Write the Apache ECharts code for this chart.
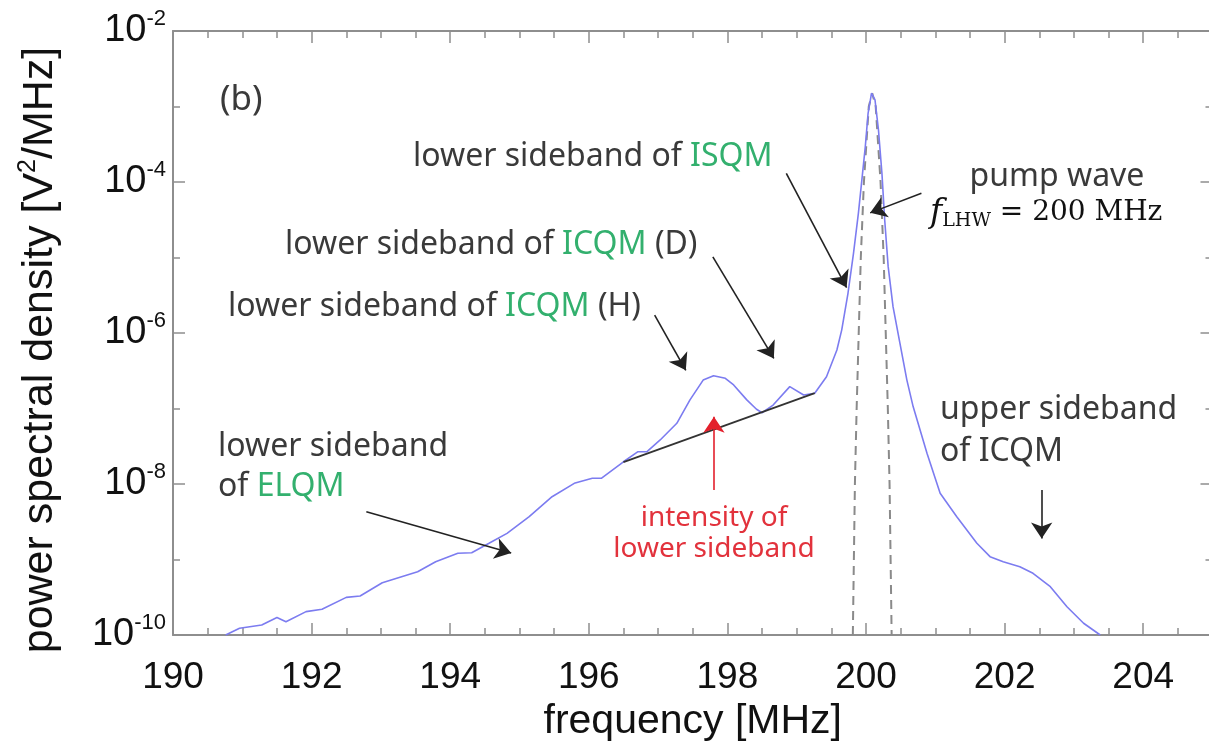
<!DOCTYPE html>
<html>
<head>
<meta charset="utf-8">
<script src="https://cdn.jsdelivr.net/npm/echarts@6/dist/echarts.min.js"></script>
<style>
  html, body { margin: 0; padding: 0; background: #fff; }
  #chart { width: 1209px; height: 746px; }
</style>
</head>
<body>
<div id="chart"></div>
<script>
// Measured power spectrum around the lower-hybrid pump (frequency in MHz, PSD in V^2/MHz)
const freq = [190.76, 190.96, 191.28, 191.50, 191.63, 191.92, 192.15, 192.50, 192.70, 193.02,
  193.53, 193.79, 194.11, 194.31, 194.56, 194.82, 195.14, 195.47, 195.79, 196.05,
  196.18, 196.50, 196.71, 196.84, 197.03, 197.27, 197.46, 197.65, 197.80, 197.97,
  198.09, 198.28, 198.42, 198.50, 198.66, 198.90, 199.10, 199.26, 199.43, 199.58,
  199.65, 199.74, 199.82, 199.89, 199.94, 199.99, 200.03, 200.08, 200.13, 200.18,
  200.23, 200.27, 200.32, 200.39, 200.49, 200.59, 200.68, 200.88, 201.07, 201.31,
  201.60, 201.79, 201.98, 202.22, 202.41, 202.66, 202.90, 203.14, 203.38];
const psd = [1.0e-10, 1.23e-10, 1.36e-10, 1.71e-10, 1.50e-10, 2.04e-10, 2.19e-10, 3.15e-10, 3.29e-10, 4.93e-10,
  6.89e-10, 9.35e-10, 1.21e-9, 1.23e-9, 1.64e-9, 2.22e-9, 3.69e-9, 6.79e-9, 1.02e-8, 1.19e-8,
  1.19e-8, 1.97e-8, 2.68e-8, 2.68e-8, 3.83e-8, 6.37e-8, 1.30e-7, 2.38e-7, 2.72e-7, 2.51e-7,
  2.05e-7, 1.30e-7, 9.76e-8, 8.79e-8, 1.11e-7, 1.95e-7, 1.51e-7, 1.59e-7, 2.64e-7, 5.96e-7,
  1.10e-6, 3.36e-6, 1.14e-5, 3.85e-5, 1.06e-4, 2.94e-4, 8.13e-4, 1.50e-3, 1.22e-3, 4.89e-4,
  1.30e-4, 3.14e-5, 7.56e-6, 2.23e-6, 7.31e-7, 2.38e-7, 1.06e-7, 2.55e-8, 7.54e-9, 3.69e-9,
  1.64e-9, 1.09e-9, 9.35e-10, 8.03e-10, 6.56e-10, 4.37e-10, 2.37e-10, 1.43e-10, 1.0e-10];

// Pump wave line profile (dashed)
const pumpFreq = [199.81, 199.825, 199.84, 199.865, 199.895, 199.925, 199.97, 200.04, 200.09,
  200.14, 200.21, 200.255, 200.285, 200.315, 200.34, 200.355, 200.37];
const pumpPsd = [1e-10, 1e-9, 1e-8, 1e-7, 1e-6, 1e-5, 1e-4, 1e-3, 1.5e-3,
  1e-3, 1e-4, 1e-5, 1e-6, 1e-7, 1e-8, 1e-9, 1e-10];

// Background level under the lower sidebands (start and end point)
const baseFreq = [196.50, 199.26];
const basePsd = [1.95e-8, 1.6e-7];

// Axis ranges and ticks
const xRange = [190, 205];
const xMajor = 2;
const xMinor = 0.5;
const yRange = [1e-10, 1e-2];
const yExpRange = [-10, -2];

// Annotation arrows: [fromFreq, fromPsd, toFreq, toPsd]
const arrowISQM = [198.85, 1.30e-4, 199.72, 4.0e-6];
const arrowPump = [200.80, 7.08e-5, 200.06, 3.9e-5];
const arrowD = [197.79, 1.02e-5, 198.67, 4.6e-7];
const arrowH = [196.95, 1.73e-6, 197.40, 3.2e-7];
const arrowELQM = [192.79, 4.30e-9, 194.88, 1.22e-9];
const arrowUpper = [202.535, 8.34e-9, 202.535, 1.9e-9];
const arrowIntensity = [197.806, 8.34e-9, 197.806, 7.8e-8];

const GREEN = '#33b06e';
const TEXT = '#3a3a3a';
const RED = '#e2323c';
const FRAME = '#8e8e8e';
const SANS = 'Noto Sans';

const chart = echarts.init(document.getElementById('chart'), null, { renderer: 'canvas' });

function arrowLine(a, color) {
  return [{ coord: [a[0], a[1]], symbol: 'none' },
          { coord: [a[2], a[3]], symbol: 'arrow', symbolSize: 16,
            lineStyle: { color: color } }];
}

function xAxisCfg(pos, interval, len, main) {
  return {
    type: 'value', position: pos, min: xRange[0], max: xRange[1], interval: interval,
    axisLine: { show: main, lineStyle: { color: FRAME, width: 2 } },
    axisTick: { show: true, inside: true, length: len, lineStyle: { color: FRAME, width: 1.5 } },
    axisLabel: { show: false },
    splitLine: { show: false }
  };
}

const xBottom = xAxisCfg('bottom', xMajor, 12, true);
xBottom.axisLabel = {
  show: true, margin: 24, showMaxLabel: false,
  fontFamily: 'Liberation Sans', fontSize: 37, color: '#111'
};
xBottom.name = 'frequency [MHz]';
xBottom.nameLocation = 'middle';
xBottom.nameGap = 58;
xBottom.nameTextStyle = { fontFamily: 'Liberation Sans', fontSize: 41, color: '#111' };

function yLogCfg(pos, main) {
  return {
    type: 'log', logBase: 10, position: pos, min: yRange[0], max: yRange[1],
    axisLine: { show: main, lineStyle: { color: FRAME, width: 2 } },
    axisTick: { show: true, inside: true, length: 7, lineStyle: { color: FRAME, width: 1.5 } },
    axisLabel: { show: false },
    splitLine: { show: false }
  };
}
function yExpCfg(pos) {
  return {
    type: 'value', position: pos, min: yExpRange[0], max: yExpRange[1], interval: 2,
    axisLine: { show: false },
    axisTick: { show: true, inside: true, length: 12, lineStyle: { color: FRAME, width: 1.5 } },
    axisLabel: { show: false },
    splitLine: { show: false }
  };
}

const yLeft = yLogCfg('left', true);
yLeft.axisLabel = {
  show: true, margin: 7,
  formatter: function (v) {
    const e = Math.round(Math.log10(v));
    return (e % 2 === 0) ? '{b|10}{s|' + e + '}' : '';
  },
  rich: {
    b: { fontFamily: 'Liberation Sans', fontSize: 38, color: '#111', lineHeight: 46 },
    s: { fontFamily: 'Liberation Sans', fontSize: 22, color: '#111', lineHeight: 46, verticalAlign: 'top' }
  }
};

function txt(x, y, text, opts) {
  opts = opts || {};
  return {
    type: 'text', x: x, y: y, z: 100,
    style: {
      text: text,
      fill: opts.fill || TEXT,
      font: (opts.size || 32) + 'px "' + (opts.family || SANS) + '"',
      textAlign: opts.align || 'left',
      textVerticalAlign: 'middle',
      rich: {
        g: { fill: GREEN, fontSize: opts.size || 32, fontFamily: opts.family || SANS }
      }
    }
  };
}

const option = {
  animation: false,
  backgroundColor: '#ffffff',
  grid: { left: 173, top: 31, width: 1039.5, height: 604, containLabel: false, outerBoundsMode: 'none' },
  xAxis: [xBottom, xAxisCfg('bottom', xMinor, 7, false), xAxisCfg('top', xMajor, 12, true), xAxisCfg('top', xMinor, 7, false)],
  yAxis: [yLeft, yExpCfg('left'), yLogCfg('right', true), yExpCfg('right')],
  series: [
    {
      type: 'line', xAxisIndex: 0, yAxisIndex: 0,
      data: pumpFreq.map((f, i) => [f, pumpPsd[i]]),
      showSymbol: false, silent: true, z: 2,
      lineStyle: { color: '#8a8a8a', width: 2, type: [9, 6] }
    },
    {
      type: 'line', xAxisIndex: 0, yAxisIndex: 0,
      data: freq.map((f, i) => [f, psd[i]]),
      showSymbol: false, silent: true, z: 3,
      lineStyle: { color: '#7c7cf0', width: 1.6 },
      markLine: {
        silent: true, animation: false,
        symbol: ['none', 'arrow'],
        label: { show: false },
        lineStyle: { color: '#222', width: 1.6, type: 'solid' },
        data: [
          [{ coord: [baseFreq[0], basePsd[0]], symbol: 'none' },
           { coord: [baseFreq[1], basePsd[1]], symbol: 'none', lineStyle: { color: '#333', width: 1.8 } }],
          arrowLine(arrowISQM, '#222'),
          arrowLine(arrowPump, '#222'),
          arrowLine(arrowD, '#222'),
          arrowLine(arrowH, '#222'),
          arrowLine(arrowELQM, '#222'),
          arrowLine(arrowUpper, '#222'),
          arrowLine(arrowIntensity, '#e3202c')
        ]
      }
    }
  ],
  graphic: [
    {
      type: 'text', x: 40, y: 350, rotation: Math.PI / 2, z: 100,
      style: {
        text: '{a|power spectral density [V}{s|2}{a|/MHz]}',
        textAlign: 'center', textVerticalAlign: 'middle',
        rich: {
          a: { fontFamily: 'Liberation Sans', fontSize: 43, fill: '#111', lineHeight: 48 },
          s: { fontFamily: 'Liberation Sans', fontSize: 25, fill: '#111', lineHeight: 48, verticalAlign: 'top' }
        }
      }
    },
    txt(220, 100, '(b)', { size: 35 }),
    txt(413, 157, 'lower sideband of {g|ISQM}'),
    txt(1057, 177, 'pump wave', { align: 'center' }),
    {
      type: 'text', x: 930, y: 213, z: 100,
      style: {
        text: '{f|f}{sub|LHW}{m| = 200 MHz}',
        textVerticalAlign: 'middle',
        rich: {
          f: { fontFamily: 'DejaVu Serif', fontStyle: 'italic', fontSize: 33, fill: '#111', lineHeight: 40 },
          sub: { fontFamily: 'DejaVu Serif', fontSize: 19, fill: '#111', lineHeight: 40, verticalAlign: 'bottom', padding: [0, 0, 2, 0] },
          m: { fontFamily: 'DejaVu Serif', fontSize: 28, fill: '#111', lineHeight: 40 }
        }
      }
    },
    txt(285, 245, 'lower sideband of {g|ICQM} (D)'),
    txt(228, 307, 'lower sideband of {g|ICQM} (H)'),
    txt(218, 447, 'lower sideband'),
    txt(218, 487, 'of {g|ELQM}'),
    txt(714, 518, 'intensity of', { align: 'center', fill: RED, size: 28 }),
    txt(714, 549, 'lower sideband', { align: 'center', fill: RED, size: 28 }),
    txt(940, 410, 'upper sideband'),
    txt(940, 452, 'of ICQM')
  ]
};

chart.setOption(option);
</script>
</body>
</html>
